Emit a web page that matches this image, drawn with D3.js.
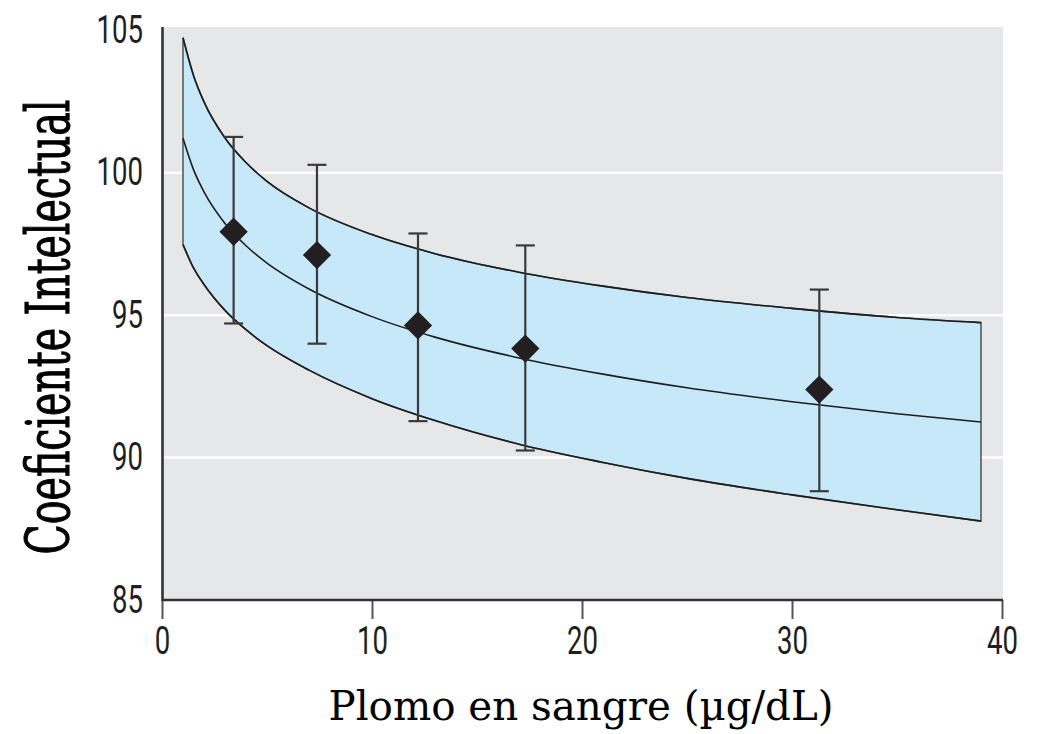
<!DOCTYPE html>
<html>
<head>
<meta charset="utf-8">
<script src="https://cdn.jsdelivr.net/npm/d3@7"></script>
<style>
  html, body { margin: 0; padding: 0; background: #ffffff; }
  svg { display: block; }
</style>
</head>
<body>
<svg id="chart" width="1043" height="734"></svg>
<script>
// ---- data ----
const curveX      = [1, 1.5, 2, 3, 4, 5, 7, 10, 13, 17, 21, 25, 30, 35, 39];
const fitCentral  = [101.21, 100.11, 99.33, 98.22, 97.44, 96.83, 95.92, 94.95, 94.23, 93.50, 92.93, 92.45, 91.96, 91.54, 91.25];
const bandUpper   = [104.74, 103.42, 102.49, 101.22, 100.36, 99.70, 98.77, 97.83, 97.16, 96.51, 96.02, 95.62, 95.24, 94.92, 94.74];
const bandLower   = [97.48, 96.66, 96.08, 95.17, 94.49, 93.93, 93.07, 92.07, 91.30, 90.47, 89.83, 89.27, 88.69, 88.17, 87.77];

const pointX      = [3.41, 7.38, 12.19, 17.3, 31.3];
const pointIQ     = [97.93, 97.11, 94.64, 93.83, 92.39];
const errHigh     = [101.26, 100.28, 97.87, 97.45, 95.90];
const errLow      = [94.71, 94.00, 91.28, 90.25, 88.82];

const xTicks      = [0, 10, 20, 30, 40];
const yTicks      = [85, 90, 95, 100, 105];
const gridValues  = [90, 95, 100];

const xTitle = "Plomo en sangre (µg/dL)";
const yTitle = "Coeficiente Intelectual";

// ---- layout ----
const svg = d3.select("#chart");
const plotLeft = 162, plotRight = 1002, plotTop = 27, plotBottom = 600;

const x = d3.scaleLinear().domain([0, 40]).range([plotLeft, plotRight]);
const y = d3.scaleLinear().domain([85, 105]).range([plotBottom, 30.4]);

const tickFont = "Roboto,'Liberation Sans',sans-serif";
const titleFont = "'DejaVu Serif','Liberation Serif',serif";
const yTitleFont = "'DejaVu Serif Condensed','DejaVu Serif','Liberation Serif',serif";

// background
svg.append("rect")
  .attr("x", plotLeft).attr("y", plotTop)
  .attr("width", plotRight + 1 - plotLeft).attr("height", plotBottom - plotTop)
  .attr("fill", "#e6e7e9");

// gridlines
svg.append("g").selectAll("line").data(gridValues).join("line")
  .attr("x1", plotLeft).attr("x2", plotRight + 1)
  .attr("y1", d => y(d)).attr("y2", d => y(d))
  .attr("stroke", "#ffffff").attr("stroke-width", 2.5);

// band
const bandData = curveX.map((v, i) => ({ x: v, lo: bandLower[i], hi: bandUpper[i], c: fitCentral[i] }));
const area = d3.area()
  .x(d => x(d.x)).y0(d => y(d.lo)).y1(d => y(d.hi))
  .curve(d3.curveMonotoneX);
svg.append("path").datum(bandData)
  .attr("d", area)
  .attr("fill", "#c6e8f8")
  .attr("stroke", "#5a5a5a").attr("stroke-width", 1.6)
  .attr("stroke-linejoin", "miter");

const lineOf = key => d3.line().x(d => x(d.x)).y(d => y(d[key])).curve(d3.curveMonotoneX);
["hi", "lo", "c"].forEach(k => {
  svg.append("path").datum(bandData)
    .attr("d", lineOf(k))
    .attr("fill", "none")
    .attr("stroke", "#1e1e1e").attr("stroke-width", 1.6);
});

// error bars
const pts = pointX.map((v, i) => ({ x: v, y: pointIQ[i], hi: errHigh[i], lo: errLow[i] }));
const eb = svg.append("g").attr("stroke", "#3a3a3a").attr("stroke-width", 2.2);
eb.selectAll("line.v").data(pts).join("line").attr("class", "v")
  .attr("x1", d => x(d.x)).attr("x2", d => x(d.x))
  .attr("y1", d => y(d.hi)).attr("y2", d => y(d.lo));
eb.selectAll("line.t").data(pts).join("line").attr("class", "t")
  .attr("x1", d => x(d.x) - 9.5).attr("x2", d => x(d.x) + 9.5)
  .attr("y1", d => y(d.hi)).attr("y2", d => y(d.hi));
eb.selectAll("line.b").data(pts).join("line").attr("class", "b")
  .attr("x1", d => x(d.x) - 9.5).attr("x2", d => x(d.x) + 9.5)
  .attr("y1", d => y(d.lo)).attr("y2", d => y(d.lo));

// diamonds
svg.append("g").selectAll("path").data(pts).join("path")
  .attr("d", d3.symbol(d3.symbolSquare, 400))
  .attr("transform", d => `translate(${x(d.x)},${y(d.y)}) rotate(45)`)
  .attr("fill", "#231f20");

// x axis
const xAxis = svg.append("g")
  .attr("transform", `translate(0,${plotBottom})`)
  .call(d3.axisBottom(x).tickValues(xTicks).tickSize(19).tickPadding(8).tickFormat(d3.format("d")));
xAxis.select(".domain").remove();
xAxis.selectAll(".tick line").attr("stroke", "#555").attr("stroke-width", 2);
xAxis.selectAll(".tick text")
  .attr("font-family", tickFont).attr("font-size", 38).attr("fill", "#1f1f1f")
  .attr("textLength", d => String(d).length * 15.5).attr("lengthAdjust", "spacingAndGlyphs");
svg.append("line")
  .attr("x1", plotLeft).attr("x2", plotRight + 1)
  .attr("y1", plotBottom).attr("y2", plotBottom)
  .attr("stroke", "#333").attr("stroke-width", 2.6);

// y axis
const yAxis = svg.append("g")
  .attr("transform", `translate(${plotLeft},0)`)
  .call(d3.axisLeft(y).tickValues(yTicks).tickSize(0).tickPadding(19).tickFormat(d3.format("d")));
yAxis.select(".domain").remove();
yAxis.selectAll(".tick text")
  .attr("font-family", tickFont).attr("font-size", 38).attr("fill", "#1f1f1f")
  .attr("textLength", d => String(d).length * 15.5).attr("lengthAdjust", "spacingAndGlyphs");
svg.append("line")
  .attr("x1", plotLeft + 0.5).attr("x2", plotLeft + 0.5)
  .attr("y1", plotTop).attr("y2", plotBottom + 1)
  .attr("stroke", "#333").attr("stroke-width", 2.6);

// titles
svg.append("text")
  .attr("x", (plotLeft + plotRight) / 2 - 1).attr("y", 720)
  .attr("text-anchor", "middle")
  .attr("font-family", titleFont).attr("font-size", 40.5).attr("fill", "#000")
  .attr("textLength", 505).attr("lengthAdjust", "spacingAndGlyphs")
  .text(xTitle);

// y title: natural text squeezed along its length with a scale transform
const yT = svg.append("text")
  .attr("text-anchor", "middle")
  .attr("font-family", yTitleFont).attr("font-size", 60).attr("fill", "#000")
  .attr("stroke", "#000").attr("stroke-width", 1.1)
  .text(yTitle);
const natural = yT.node().getComputedTextLength();
const sx = 455 / natural;
yT.attr("transform", `translate(69,327) rotate(-90) scale(${sx},1)`);
</script>
</body>
</html>
